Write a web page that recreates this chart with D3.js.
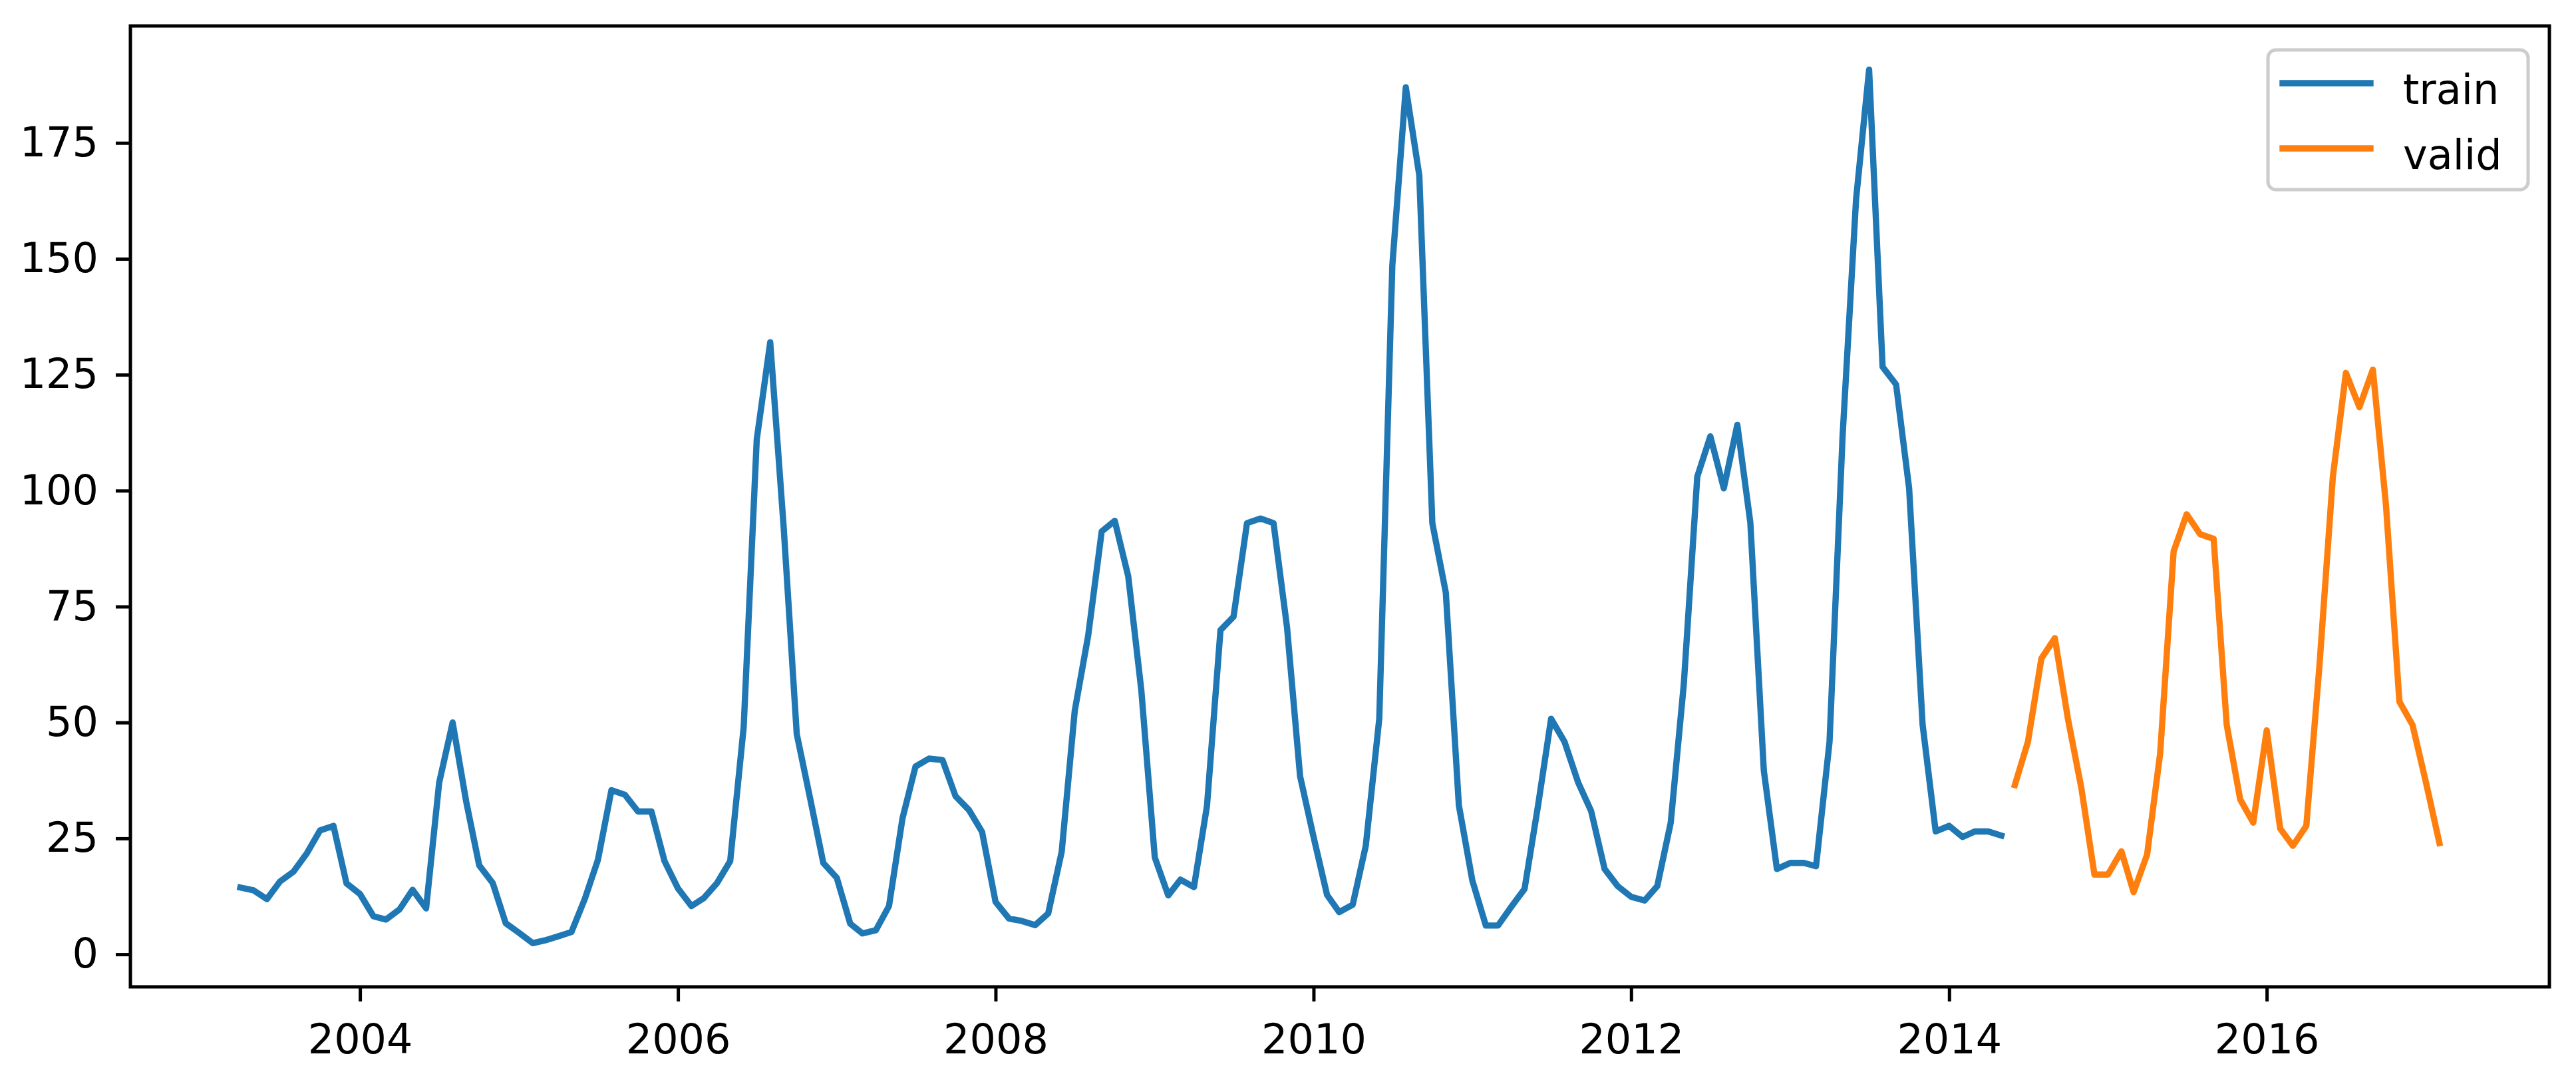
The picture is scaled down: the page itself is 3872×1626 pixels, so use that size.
<!DOCTYPE html>
<html>
<head>
<meta charset="utf-8">
<script src="https://cdn.jsdelivr.net/npm/d3@7"></script>
<style>
  body { margin: 0; background: #fff; }
  text { font-family: "DejaVu Sans", sans-serif; }
</style>
</head>
<body>
<div id="chart"></div>
<script>
// monthly series, values
var trainStart = "2003-04-01";
var trainValues = [
  14.4, 13.8, 11.9, 15.7, 17.8, 21.8, 26.7, 27.7, 15.3,
  13.0, 8.2, 7.5, 9.7, 13.9, 9.9, 37.0, 50.0, 33.0, 19.2, 15.4, 6.7,
  4.6, 2.4, 3.0, 3.9, 4.8, 12.0, 20.4, 35.4, 34.4, 30.8, 30.8, 20.1,
  14.2, 10.4, 12.1, 15.4, 20.1, 49.0, 111.0, 132.0, 92.0, 47.5, 33.5, 19.7,
  16.5, 6.6, 4.5, 5.2, 10.4, 29.3, 40.5, 42.2, 41.9, 34.1, 31.1, 26.4,
  11.3, 7.7, 7.2, 6.3, 8.8, 22.1, 52.5, 68.8, 91.2, 93.5, 81.5, 57.0,
  20.9, 12.7, 16.1, 14.5, 32.0, 69.9, 72.8, 93.0, 94.0, 93.0, 70.5, 38.4,
  25.3, 12.8, 9.1, 10.7, 23.4, 50.8, 148.5, 187.0, 168.0, 93.0, 78.0, 32.1,
  15.9, 6.2, 6.2, 10.3, 14.1, 32.1, 50.8, 45.8, 37.1, 30.9, 18.4, 14.7,
  12.4, 11.6, 14.7, 28.4, 58.2, 103.0, 111.7, 100.5, 114.2, 93.1, 39.6, 18.4,
  19.7, 19.7, 19.0, 45.8, 111.7, 162.8, 190.8, 126.7, 122.9, 100.5, 49.5, 26.5,
  27.7, 25.3, 26.5, 26.5, 25.6
];
var validStart = "2014-06-01";
var validValues = [
  36.5, 45.8, 63.8, 68.2, 50.8, 35.8, 17.2,
  17.2, 22.2, 13.4, 21.5, 43.3, 86.9, 94.9, 90.6, 89.6, 49.5, 33.4, 28.4,
  48.3, 27.1, 23.4, 27.7, 62.0, 103.0, 125.4, 118.0, 126.1, 97.0, 54.5, 49.5,
  37.1, 24.0
];
var seriesNames = ["train", "valid"];
var seriesColors = ["#1f77b4", "#ff7f0e"];
var yTickValues = [0, 25, 50, 75, 100, 125, 150, 175];
var xTickYears = [2004, 2006, 2008, 2010, 2012, 2014, 2016];

// set the dimensions and margins of the graph
var width = 3872, height = 1626;
var margin = { top: 39, right: 40, bottom: 143, left: 196 };
var innerW = width - margin.left - margin.right,
  innerH = height - margin.top - margin.bottom;
var fontSize = 62;

var parse = d3.timeParse("%Y-%m-%d");

function toPoints(start, values) {
  var d0 = parse(start);
  return values.map(function(v, i) {
    return { date: d3.timeMonth.offset(d0, i), value: v };
  });
}

var series = [toPoints(trainStart, trainValues), toPoints(validStart, validValues)];
var all = series[0].concat(series[1]);

// matplotlib style 5% margins on both axes
var xExt = d3.extent(all, function(d) { return d.date; });
var xPad = (xExt[1] - xExt[0]) * 0.05;
var yExt = d3.extent(all, function(d) { return d.value; });
var yPad = (yExt[1] - yExt[0]) * 0.05;

var x = d3.scaleTime()
  .domain([new Date(+xExt[0] - xPad), new Date(+xExt[1] + xPad)])
  .range([0, innerW]);
var y = d3.scaleLinear()
  .domain([yExt[0] - yPad, yExt[1] + yPad])
  .range([innerH, 0]);

var svg = d3.select("#chart")
  .append("svg")
  .attr("width", width)
  .attr("height", height)
  .style("background", "#fff");

var g = svg.append("g")
  .attr("transform", "translate(" + margin.left + "," + margin.top + ")");

// lines
var line = d3.line()
  .x(function(d) { return x(d.date); })
  .y(function(d) { return y(d.value); });

g.selectAll("path.series")
  .data(series)
  .enter()
  .append("path")
  .attr("class", "series")
  .attr("d", line)
  .attr("fill", "none")
  .attr("stroke", function(d, i) { return seriesColors[i]; })
  .attr("stroke-width", 9.4)
  .attr("stroke-linejoin", "round")
  .attr("stroke-linecap", "square");

// axes
var xAxis = g.append("g")
  .attr("transform", "translate(0," + innerH + ")")
  .call(d3.axisBottom(x)
    .tickValues(xTickYears.map(function(yr) { return new Date(yr, 0, 1); }))
    .tickFormat(d3.timeFormat("%Y"))
    .tickSize(22)
    .tickPadding(34));

var yAxis = g.append("g")
  .call(d3.axisLeft(y)
    .tickValues(yTickValues)
    .tickSize(22)
    .tickPadding(26));

[xAxis, yAxis].forEach(function(ax) {
  ax.select(".domain").remove();
  ax.selectAll(".tick line").attr("stroke", "#000").attr("stroke-width", 5);
  ax.selectAll(".tick text")
    .attr("fill", "#000")
    .style("font-size", fontSize + "px")
    .style("font-family", "'DejaVu Sans', sans-serif");
});

// frame
g.append("rect")
  .attr("x", 0)
  .attr("y", 0)
  .attr("width", innerW)
  .attr("height", innerH)
  .attr("fill", "none")
  .attr("stroke", "#000")
  .attr("stroke-width", 5);

// legend, upper right
var legW = 391, legH = 210;
var legend = g.append("g")
  .attr("transform", "translate(" + (innerW - 32 - legW) + "," + 36 + ")");

legend.append("rect")
  .attr("width", legW)
  .attr("height", legH)
  .attr("rx", 12)
  .attr("fill", "#fff")
  .attr("fill-opacity", 0.8)
  .attr("stroke", "#cccccc")
  .attr("stroke-width", 5);

var items = legend.selectAll("g.item")
  .data(seriesNames)
  .enter()
  .append("g")
  .attr("class", "item")
  .attr("transform", function(d, i) { return "translate(0," + (50 + i * 98) + ")"; });

items.append("line")
  .attr("x1", 22)
  .attr("x2", 154)
  .attr("stroke", function(d, i) { return seriesColors[i]; })
  .attr("stroke-width", 9.4)
  .attr("stroke-linecap", "square");

items.append("text")
  .attr("x", 203)
  .attr("y", 31)
  .style("font-size", fontSize + "px")
  .attr("fill", "#000")
  .text(function(d) { return d; });
</script>
</body>
</html>
